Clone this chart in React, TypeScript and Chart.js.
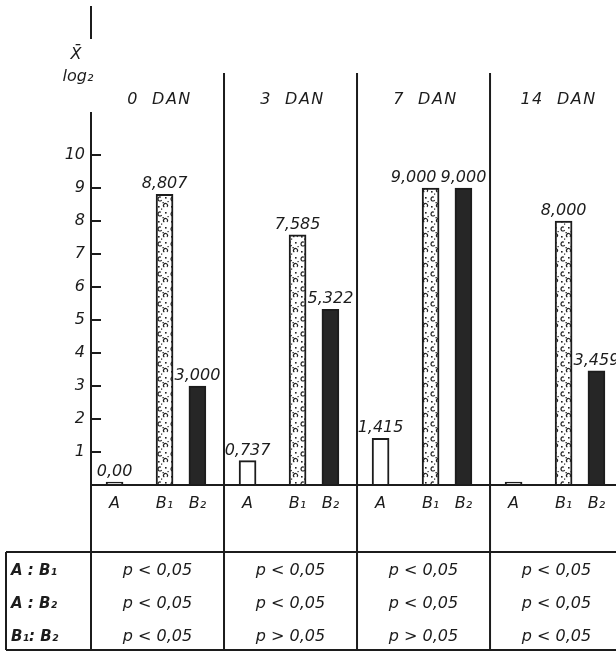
import React, { useEffect, useRef } from "react";
import { Chart, registerables } from "chart.js";

Chart.register(...registerables);

// ---- data ----
const groups = ["0 DAN", "3 DAN", "7 DAN", "14 DAN"];
const seriesNames = ["A", "B₁", "B₂"];
const valuesA = [0.0, 0.737, 1.415, 0];
const valuesB1 = [8.807, 7.585, 9.0, 8.0];
const valuesB2 = [3.0, 5.322, 9.0, 3.459];
const labelsA = ["0,00", "0,737", "1,415", null];
const labelsB1 = ["8,807", "7,585", "9,000", "8,000"];
const labelsB2 = ["3,000", "5,322", "9,000", "3,459"];
const yTicks = [1, 2, 3, 4, 5, 6, 7, 8, 9, 10];
const comparisons = ["A : B₁", "A : B₂", "B₁: B₂"];
const pA_B1 = ["p < 0,05", "p < 0,05", "p < 0,05", "p < 0,05"];
const pA_B2 = ["p < 0,05", "p < 0,05", "p < 0,05", "p < 0,05"];
const pB1_B2 = ["p < 0,05", "p > 0,05", "p > 0,05", "p < 0,05"];

// ---- layout / style constants ----
const W = 616;
const H = 652;
const INK = "#1c1c1c";
const FONT = "'DejaVu Sans', sans-serif";
const slotOffsets = [0.177, 0.553, 0.8];
const Y_MAX = 14.7;
const X_MAX = 3.947;

function makeStipple(): CanvasPattern | string {
  const c = document.createElement("canvas");
  c.width = 13;
  c.height = 15;
  const g = c.getContext("2d");
  if (!g) return "#fff";
  g.fillStyle = "#fff";
  g.fillRect(0, 0, 13, 15);
  g.strokeStyle = "#222";
  g.fillStyle = "#222";
  g.lineWidth = 1.2;
  g.beginPath();
  g.arc(4, 4, 2, 0.6, 5.2);
  g.stroke();
  g.beginPath();
  g.arc(9.5, 10.5, 2, 2.2, 7.0);
  g.stroke();
  g.fillRect(9, 2, 1.6, 1.6);
  g.fillRect(2, 11, 1.6, 1.6);
  g.fillRect(6.5, 7, 1.3, 1.3);
  g.fillRect(11.5, 6, 1.2, 1.2);
  g.fillRect(5, 13.5, 1.2, 1.2);
  const ctx2 = document.createElement("canvas").getContext("2d");
  const pat = ctx2 ? ctx2.createPattern(c, "repeat") : null;
  return pat || "#fff";
}

export default function App() {
  const ref = useRef<HTMLCanvasElement | null>(null);

  useEffect(() => {
    const canvas = ref.current;
    if (!canvas) return;

    const allValues = [valuesA, valuesB1, valuesB2];
    const allLabels = [labelsA, labelsB1, labelsB2];
    const fills = ["#ffffff", makeStipple(), "#262626"];

    const datasets = allValues.map((vals, s) => ({
      label: seriesNames[s],
      data: vals.map((v, g) => ({ x: g + slotOffsets[s], y: v })),
      backgroundColor: fills[s] as any,
      borderColor: INK,
      borderWidth: 2,
      barThickness: 17,
      grouped: false,
      minBarLength: s === 0 ? 3 : 0,
    }));

    const tickPositions: number[] = [];
    const tickLabels: string[] = [];
    groups.forEach((_, g) => {
      seriesNames.forEach((name, s) => {
        tickPositions.push(g + slotOffsets[s]);
        tickLabels.push(name);
      });
    });

    const extras = {
      id: "extras",
      afterDraw(chart: any) {
        const ctx: CanvasRenderingContext2D = chart.ctx;
        const xs = chart.scales.x;
        const ys = chart.scales.y;
        const left = chart.chartArea.left;
        const right = W;
        const y0 = ys.getPixelForValue(0);
        ctx.save();
        ctx.strokeStyle = INK;
        ctx.fillStyle = INK;
        ctx.lineWidth = 2;
        ctx.lineCap = "butt";

        // y axis segments
        ctx.beginPath();
        ctx.moveTo(left, 6);
        ctx.lineTo(left, 39);
        ctx.moveTo(left, 112);
        ctx.lineTo(left, 650);
        ctx.stroke();

        // y tick marks (inward)
        ctx.beginPath();
        yTicks.forEach((t) => {
          const y = ys.getPixelForValue(t);
          ctx.moveTo(left, y);
          ctx.lineTo(left + 10, y);
        });
        ctx.stroke();

        // baseline
        ctx.beginPath();
        ctx.moveTo(left, y0);
        ctx.lineTo(right, y0);
        ctx.stroke();

        // group dividers
        ctx.beginPath();
        for (let g = 1; g < groups.length; g++) {
          const x = xs.getPixelForValue(g);
          ctx.moveTo(x, 73);
          ctx.lineTo(x, 650);
        }
        ctx.stroke();

        // axis title
        ctx.font = `italic 16px ${FONT}`;
        ctx.textAlign = "center";
        ctx.textBaseline = "middle";
        ctx.fillText("X̄", 76, 55);
        ctx.fillText("log₂", 78, 77);

        // group headers
        ctx.font = `italic 16px ${FONT}`;
        (ctx as any).letterSpacing = "1.5px";
        groups.forEach((name, g) => {
          const x = xs.getPixelForValue(g + 0.5);
          ctx.fillText(name.replace(" ", "  "), x + 2, 100);
        });
        (ctx as any).letterSpacing = "0px";

        // value labels
        ctx.font = `italic 16px ${FONT}`;
        ctx.textBaseline = "alphabetic";
        groups.forEach((_, g) => {
          const items: { x: number; y: number; w: number; t: string }[] = [];
          allLabels.forEach((labs, s) => {
            const t = labs[g];
            if (!t) return;
            const el = chart.getDatasetMeta(s).data[g];
            const w = ctx.measureText(t).width;
            items.push({ x: el.x, y: el.y - 6, w, t });
          });
          for (let i = items.length - 2; i >= 0; i--) {
            const a = items[i];
            const b = items[i + 1];
            if (Math.abs(a.y - b.y) < 16) {
              const overlap = a.x + a.w / 2 + 4 - (b.x - b.w / 2);
              if (overlap > 0) a.x -= overlap;
            }
          }
          items.forEach((it) => ctx.fillText(it.t, it.x, it.y));
        });

        // table
        ctx.lineWidth = 2;
        ctx.beginPath();
        ctx.moveTo(6, 552);
        ctx.lineTo(right, 552);
        ctx.moveTo(6, 552);
        ctx.lineTo(6, 650);
        ctx.moveTo(6, 650);
        ctx.lineTo(right, 650);
        ctx.stroke();

        const rows = [pA_B1, pA_B2, pB1_B2];
        const rowY = [571, 604, 637];
        ctx.textBaseline = "middle";
        ctx.textAlign = "left";
        ctx.font = `bold italic 15px ${FONT}`;
        comparisons.forEach((c, r) => ctx.fillText(c, 11, rowY[r]));
        ctx.textAlign = "center";
        ctx.font = `italic 16px ${FONT}`;
        rows.forEach((vals, r) => {
          vals.forEach((v, g) => {
            const x = xs.getPixelForValue(g + 0.5);
            ctx.fillText(v, x, rowY[r]);
          });
        });
        ctx.restore();
      },
    };

    const chart = new Chart(canvas, {
      type: "bar",
      data: { datasets: datasets as any },
      options: {
        animation: false,
        responsive: false,
        maintainAspectRatio: false,
        layout: { padding: 0 },
        plugins: { legend: { display: false }, tooltip: { enabled: false } },
        scales: {
          x: {
            type: "linear",
            min: 0,
            max: X_MAX,
            offset: false,
            grid: { display: false, drawTicks: false },
            border: { display: false },
            afterBuildTicks: (axis: any) => {
              axis.ticks = tickPositions.map((v) => ({ value: v }));
            },
            afterFit: (axis: any) => {
              axis.height = H - 485;
              axis.paddingLeft = 0;
              axis.paddingRight = 0;
            },
            ticks: {
              autoSkip: false,
              maxRotation: 0,
              padding: 9,
              color: INK,
              font: { family: FONT, size: 16, style: "italic" },
              callback: (_v: any, i: number) => tickLabels[i],
            },
          },
          y: {
            type: "linear",
            min: 0,
            max: Y_MAX,
            grid: { display: false, drawTicks: false },
            border: { display: false },
            afterBuildTicks: (axis: any) => {
              axis.ticks = yTicks.map((v) => ({ value: v }));
            },
            afterFit: (axis: any) => {
              axis.width = 91;
              axis.paddingTop = 0;
              axis.paddingBottom = 0;
            },
            ticks: {
              padding: 6,
              color: INK,
              font: { family: FONT, size: 16, style: "italic" },
              callback: (v: any) => String(v),
            },
          },
        },
      },
      plugins: [extras],
    });

    return () => chart.destroy();
  }, []);

  return (
    <div style={{ position: "fixed", left: 0, top: 0, width: W, height: H, background: "#fff" }}>
      <canvas ref={ref} width={W} height={H} style={{ display: "block", width: W, height: H }} />
    </div>
  );
}
